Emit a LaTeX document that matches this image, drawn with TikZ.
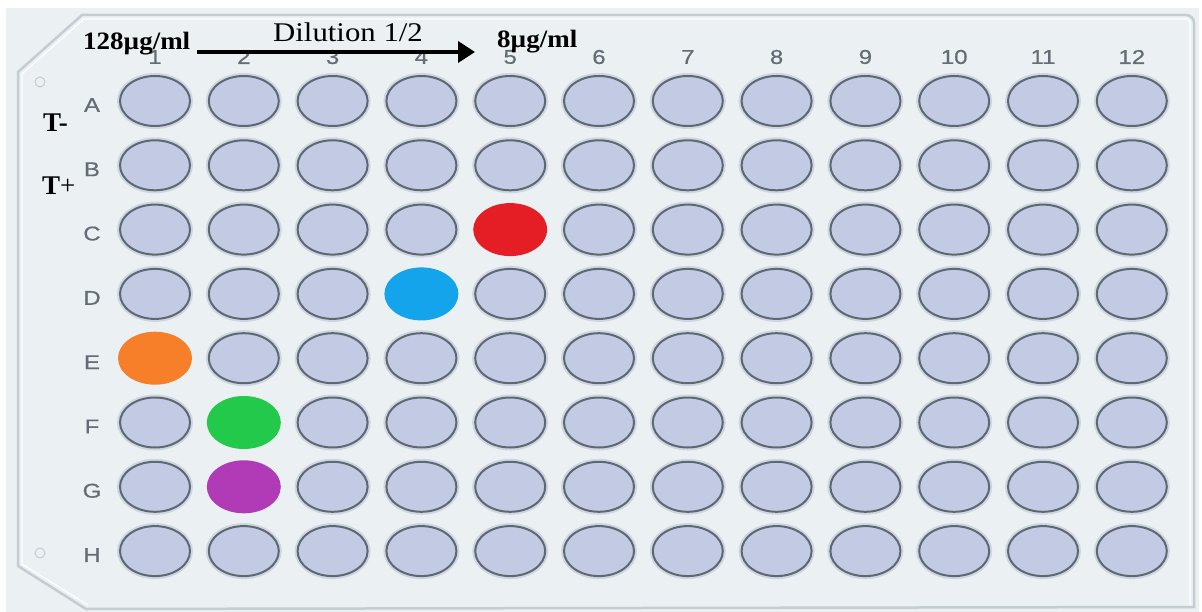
\documentclass[tikz,border=0pt]{standalone}
\usepackage{fontspec}
\setmainfont{Liberation Serif}
\newfontfamily\labfont[FakeStretch=1.2,FakeBold=0.6]{Liberation Sans}
\newfontfamily\widebf[FakeStretch=1.08]{Liberation Serif}
\newfontfamily\widerm[FakeStretch=1.14]{Liberation Serif}
\usetikzlibrary{calc,arrows.meta,shapes.geometric}
\definecolor{platebg}{HTML}{EBF0F3}
\definecolor{rim}{HTML}{C4CDD2}
\definecolor{wellfill}{HTML}{C3CAE3}
\definecolor{welldraw}{HTML}{5E6873}
\definecolor{halo}{HTML}{CFD6E0}
\definecolor{labgray}{HTML}{646D75}
\definecolor{spotred}{HTML}{E51E26}
\definecolor{spotblue}{HTML}{14A4EC}
\definecolor{spotorange}{HTML}{F77F2A}
\definecolor{spotgreen}{HTML}{22C94B}
\definecolor{spotpurple}{HTML}{B13BB7}
\tikzset{
  well/.style={ellipse, minimum width=70pt, minimum height=50pt, inner sep=0pt,
    fill=wellfill, draw=welldraw, line width=2pt,
    preaction={draw=halo, line width=6pt}},
  spot/.style={ellipse, minimum width=74pt, minimum height=53pt, inner sep=0pt, draw=none},
  collab/.style={font=\labfont\fontsize{20}{23}\selectfont, text=labgray, inner sep=0pt},
  boldlab/.style={font=\widebf\bfseries\fontsize{25}{30}\selectfont, inner sep=0pt, anchor=base west},
  tlab/.style={font=\fontsize{27}{32}\selectfont, inner sep=0pt, anchor=base west},
  dillab/.style={font=\widerm\fontsize{27}{31}\selectfont, inner sep=0pt, anchor=base west},
  arrowline/.style={line width=3.8pt, -{Triangle[length=17pt,width=21pt]}},
  rimline/.style={draw=rim, line width=2.5pt},
  hole/.style={circle, minimum size=10pt, inner sep=0pt, draw=rim, line width=1pt}
}
\expandafter\def\csname spot@C5\endcsname{spotred}
\expandafter\def\csname spot@D4\endcsname{spotblue}
\expandafter\def\csname spot@E1\endcsname{spotorange}
\expandafter\def\csname spot@F2\endcsname{spotgreen}
\expandafter\def\csname spot@G2\endcsname{spotpurple}
\begin{document}
\begin{tikzpicture}[x=1pt,y=-1pt]
\useasboundingbox (0,0) rectangle (1202,612);
\fill[white] (0,0) rectangle (1202,612);
\fill[platebg] (6,8) rectangle (1199,612);
% plate outline
\draw[rimline] (86,609) -- (18,566) -- (18,72) -- (82,15) -- (1186,15)
  arc[start angle=-90, end angle=0, radius=8] -- (1194,607) -- cycle;
\draw[white, line width=1.2pt] (88,605) -- (22,564) -- (22,74) -- (84,19) -- (1186,19)
  arc[start angle=-90, end angle=0, radius=4] -- (1190,605);
\node[hole] (h1) at (40,82) {};
\node[hole] (h2) at (40,553) {};
% column numbers
\foreach \c in {1,...,12}
  \node[collab] (n\c) at ({155+88.8*(\c-1)},57) {\c};
% row letters and wells
\foreach \r [count=\j] in {A,B,C,D,E,F,G,H}{
  \node[collab] (l\r) at (92,{105+64.3*(\j-1)}) {\r};
  \foreach \c in {1,...,12}{
    \ifcsname spot@\r\c\endcsname
      \node[spot, fill=\csname spot@\r\c\endcsname] (w\r\c) at ({155+88.8*(\c-1)},{101+64.3*(\j-1)}) {};
    \else
      \node[well] (w\r\c) at ({155+88.8*(\c-1)},{101+64.3*(\j-1)}) {};
    \fi
  }
}
% annotations
\node[boldlab] (c128) at (83,50) {128µg/ml};
\node[boldlab] (c8) at (497,48) {8µg/ml};
\node[dillab] (dil) at (273,42) {Dilution 1/2};
\draw[arrowline] ($(c128.base east)+(7,2)$) -- ($(c8.base west)+(-22,4)$);
\node[tlab] (tm) at (43,132) {\textbf{T-}};
\node[tlab] (tp) at (42,195) {\textbf{T}+};
\end{tikzpicture}
\end{document}
